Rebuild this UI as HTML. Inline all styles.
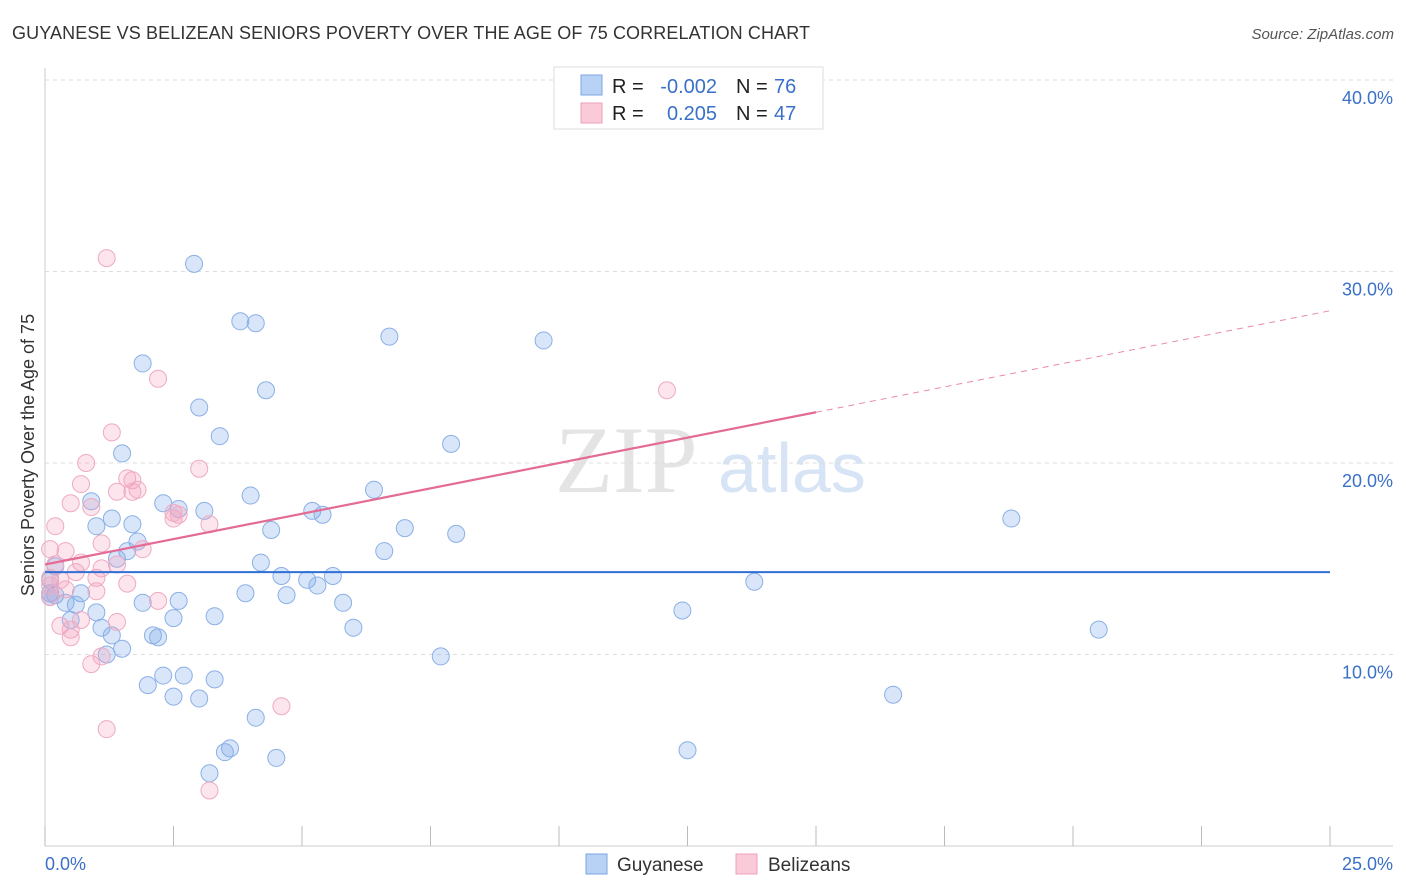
<!DOCTYPE html>
<html><head><meta charset="utf-8"><style>
body{margin:0;background:#fff;font-family:"Liberation Sans",sans-serif;}
svg{display:block}
</style></head><body>
<svg id="chart" width="1406" height="892">
<text x="12" y="39" font-size="18" fill="#333" textLength="798">GUYANESE VS BELIZEAN SENIORS POVERTY OVER THE AGE OF 75 CORRELATION CHART</text>
<text x="1394" y="39" font-size="15" fill="#555" text-anchor="end" font-style="italic">Source: ZipAtlas.com</text>
<text x="555" y="492" font-size="95" fill="#e4e4e4" font-family="Liberation Serif">ZIP</text>
<text x="718" y="492" font-size="70" fill="#d6e4f5">atlas</text>
<g id="grid"></g><g id="marks"></g>
<text transform="translate(34,455) rotate(-90)" font-size="18" fill="#333" text-anchor="middle">Seniors Poverty Over the Age of 75</text>
<text x="45" y="870" font-size="18" fill="#3a70c8">0.0%</text>
<text x="1393" y="870" font-size="18" fill="#3a70c8" text-anchor="end">25.0%</text>
<g>
<rect x="554" y="67" width="269" height="62" fill="#fff" stroke="#ddd"/>
<rect x="581" y="75" width="21" height="20" fill="#b8d2f5" stroke="#7aa5e0"/>
<rect x="581" y="103" width="21" height="20" fill="#fbcad9" stroke="#eda0b8"/>
<text x="612" y="93" font-size="20" fill="#222">R =</text>
<text x="717" y="93" font-size="20" fill="#3a70c8" text-anchor="end">-0.002</text>
<text x="736" y="93" font-size="20" fill="#222">N =</text>
<text x="774" y="93" font-size="20" fill="#3a70c8">76</text>
<text x="612" y="120" font-size="20" fill="#222">R =</text>
<text x="717" y="120" font-size="20" fill="#3a70c8" text-anchor="end">0.205</text>
<text x="736" y="120" font-size="20" fill="#222">N =</text>
<text x="774" y="120" font-size="20" fill="#3a70c8">47</text>
</g>
<g>
<rect x="586" y="854" width="21" height="20" fill="#b8d2f5" stroke="#7aa5e0"/>
<text x="617" y="871" font-size="19" fill="#333">Guyanese</text>
<rect x="736" y="854" width="21" height="20" fill="#fbcad9" stroke="#eda0b8"/>
<text x="768" y="871" font-size="19" fill="#333">Belizeans</text>
</g>
</svg>
<script>
const yTicks=[10,20,30,40];
const xTicks=[0,2.5,5,7.5,10,12.5,15,17.5,20,22.5,25];
const blueX=[2.9,3.8,4.1,6.7,9.7,1.9,4.3,3.0,3.4,7.9,1.5,4.0,6.4,2.3,2.6,3.1,5.2,5.4,0.9,1.3,1.0,1.7,4.4,7.0,8.0,18.8,1.8,1.6,1.4,6.6,4.2,0.2,5.1,4.6,5.6,5.3,13.8,0.1,0.1,0.2,0.7,0.4,0.6,3.9,4.7,2.6,1.9,5.8,1.0,12.4,3.3,2.5,0.5,1.1,1.3,2.1,2.2,6.0,20.5,1.5,1.2,7.7,2.3,2.7,2.0,3.3,2.5,3.0,16.5,4.1,3.6,3.5,12.5,4.5,3.2,0.1];
const blueY=[30.4,27.4,27.3,26.6,26.4,25.2,23.8,22.9,21.4,21.0,20.5,18.3,18.6,17.9,17.6,17.5,17.5,17.3,18.0,17.1,16.7,16.8,16.5,16.6,16.3,17.1,15.9,15.4,15.0,15.4,14.8,14.6,13.9,14.1,14.1,13.6,13.8,13.9,13.2,13.1,13.2,12.7,12.6,13.2,13.1,12.8,12.7,12.7,12.2,12.3,12.0,11.9,11.8,11.4,11.0,11.0,10.9,11.4,11.3,10.3,10.0,9.9,8.9,8.9,8.4,8.7,7.8,7.7,7.9,6.7,5.1,4.9,5.0,4.6,3.8,13.0];
const pinkX=[1.2,2.2,12.1,1.3,3.0,0.8,1.6,1.7,0.7,1.8,1.4,1.7,0.5,0.9,2.5,2.5,3.2,0.2,1.1,1.9,0.4,0.1,0.7,0.2,1.1,1.4,0.6,0.1,1.0,0.3,1.6,0.4,1.0,0.1,0.7,0.3,0.5,1.4,0.5,1.1,0.9,2.2,4.6,1.2,3.2,0.1,2.6];
const pinkY=[30.7,24.4,23.8,21.6,19.7,20.0,19.2,19.1,18.9,18.6,18.5,18.5,17.9,17.7,17.4,17.1,16.8,16.7,15.8,15.5,15.4,15.5,14.8,14.7,14.5,14.7,14.3,14.0,14.0,13.9,13.7,13.4,13.3,13.0,11.8,11.5,11.3,11.7,10.9,9.9,9.5,12.8,7.3,6.1,2.9,13.6,17.3];
const NS='http://www.w3.org/2000/svg';
const X=v=>45+v*51.4, Y=v=>846-v*19.15;
const grid=document.getElementById('grid'), marks=document.getElementById('marks');
function mk(tag,at,parent){const e=document.createElementNS(NS,tag);for(const k in at)e.setAttribute(k,at[k]);parent.appendChild(e);return e;}
let ax=mk('line',{x1:45,x2:45,y1:68,y2:846,stroke:'#ccc'},grid);


let bx=mk('line',{x1:45,x2:1393,y1:846,y2:846,stroke:'#ccc'},grid);


yTicks.forEach(t=>{
 let g=mk('line',{x1:45,x2:1393,y1:Y(t),y2:Y(t),stroke:'#ddd','stroke-dasharray':'4,4'},grid);
 
 
 let l=mk('text',{x:1393,y:Y(t)+24,'font-size':18,fill:'#3a70c8','text-anchor':'end'},grid);l.textContent=t.toFixed(1)+'%';
 
 
});
xTicks.forEach(t=>{
 let k=mk('line',{x1:X(t),x2:X(t),y1:826,y2:846,stroke:'#bbb'},grid);
 
 
});
function dots(xs,ys,fill,stroke,name){xs.forEach((x,i)=>{
 let c=mk('circle',{cx:X(x),cy:Y(ys[i]),r:8.5,fill:fill,stroke:stroke,'stroke-width':1},marks);
 
 
});}
dots(blueX,blueY,'rgba(120,165,235,0.28)','#8ab0e6','guyanese-point');
dots(pinkX,pinkY,'rgba(245,160,190,0.28)','#efaac0','belizean-point');
let bl=mk('line',{x1:X(0),x2:X(25),y1:Y(14.3),y2:Y(14.3),stroke:'#2f6fd6','stroke-width':2},marks);


const pk=v=>14.7+v*0.53;
let pl=mk('line',{x1:X(0),x2:X(15),y1:Y(pk(0)),y2:Y(pk(15)),stroke:'#e46b95','stroke-width':2.2},marks);


let pd=mk('line',{x1:X(15),x2:X(25),y1:Y(pk(15)),y2:Y(pk(25)),stroke:'#e88aab','stroke-width':1,'stroke-dasharray':'6,5'},marks);


</script>
</body></html>
